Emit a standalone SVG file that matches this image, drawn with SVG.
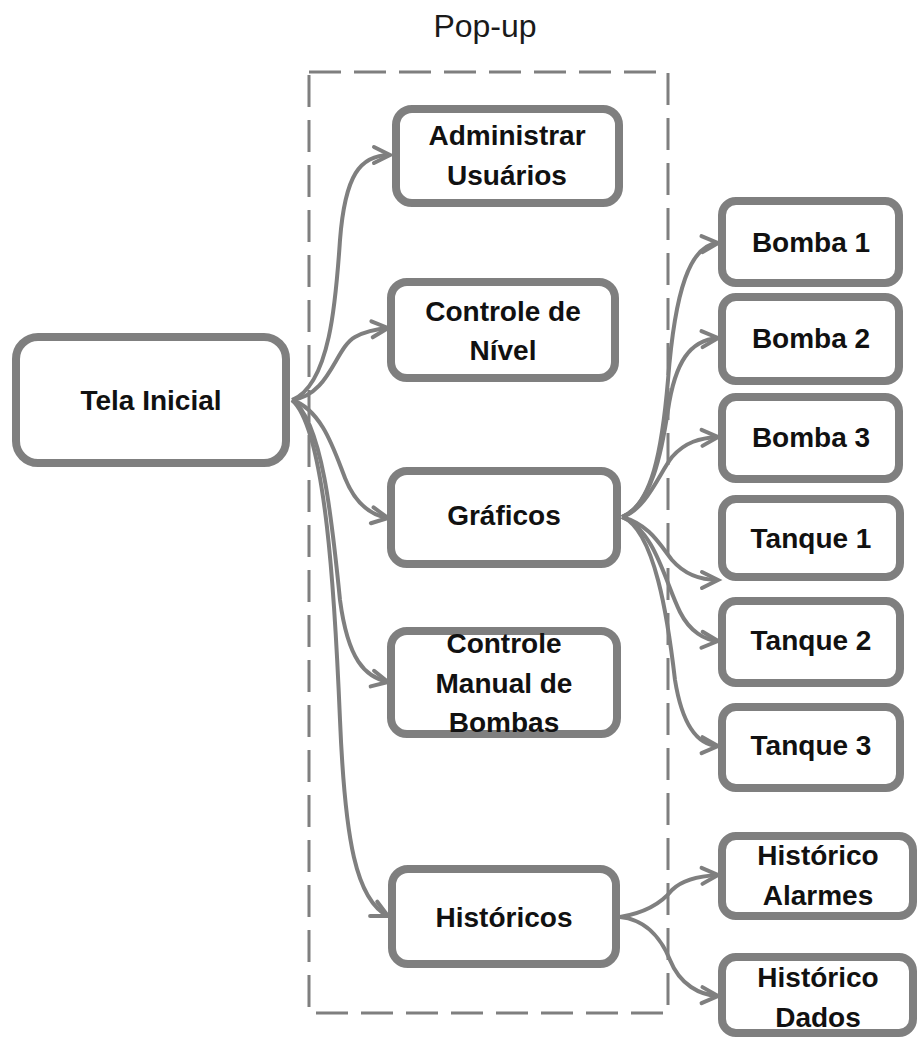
<svg xmlns="http://www.w3.org/2000/svg" width="917" height="1039" viewBox="0 0 917 1039">
  <style>
    .box { fill: #ffffff; stroke: #7f7f7f; stroke-width: 8; }
    .lbl { font-family: "Liberation Sans", Arial, sans-serif; font-weight: bold; font-size: 28px; fill: #111111; text-anchor: middle; }
    .title { font-family: "Liberation Sans", Arial, sans-serif; font-size: 32px; fill: #1a1a1a; text-anchor: middle; }
    .edge { fill: none; stroke: #7f7f7f; stroke-width: 4; marker-end: url(#arr); }
    .frame { fill: none; stroke: #7f7f7f; stroke-width: 3; stroke-dasharray: 32 13; }
  </style>
  <defs>
    <marker id="arr" markerUnits="userSpaceOnUse" markerWidth="30" markerHeight="30" viewBox="-20 -15 25 30" refX="0" refY="0" orient="auto" overflow="visible">
      <path d="M-16,-8 L0,0 L-16,8" fill="none" stroke="#7f7f7f" stroke-width="4" stroke-linecap="round"/>
    </marker>
  </defs>
  <rect width="917" height="1039" fill="#ffffff"/>

  <!-- pop-up frame -->
  <g id="popup">
    <text class="title" x="485" y="37">Pop-up</text>
    <rect class="frame" x="309" y="72" width="359" height="941"/>
  </g>

  <!-- connectors -->
  <g id="connectors">
    <path class="edge" d="M292,400 C330,385 336,300 340,240 C345,175 360,155 390,155"/>
    <path class="edge" d="M292,400 C330,395 335,348 355,337 C366,331 376,329 388,328"/>
    <path class="edge" d="M292,400 C322,410 334,450 345,478 C355,503 370,515 388,518"/>
    <path class="edge" d="M292,400 C322,420 332,520 340,600 C348,660 365,677 388,682"/>
    <path class="edge" d="M292,400 C326,430 335,600 340,720 C345,840 356,900 388,916"/>

    <path class="edge" d="M622,517 C652,505 662,450 668,380 C675,290 690,245 718,243"/>
    <path class="edge" d="M622,517 C652,505 662,450 668,410 C675,362 690,340 718,338"/>
    <path class="edge" d="M622,517 C646,510 660,472 672,457 C685,442 700,438 718,437"/>
    <path class="edge" d="M622,517 C650,525 660,545 672,560 C685,575 700,580 718,580"/>
    <path class="edge" d="M622,517 C655,530 665,582 680,612 C690,632 705,640 718,641"/>
    <path class="edge" d="M622,517 C655,530 668,620 675,680 C683,730 700,745 718,746"/>

    <path class="edge" d="M620,917 C650,912 664,900 672,890 C682,880 700,876 718,875"/>
    <path class="edge" d="M620,917 C650,920 664,945 670,960 C680,985 700,995 718,996"/>
  </g>

  <g id="tela-inicial">
    <rect class="box" x="16" y="337" width="270" height="126" rx="22"/>
    <text class="lbl" x="151" y="410">Tela Inicial</text>
  </g>

  <g id="administrar-usuarios">
    <rect class="box" x="396" y="109" width="223" height="94" rx="16"/>
    <text class="lbl" x="507" y="145">Administrar</text>
    <text class="lbl" x="507" y="185">Usuários</text>
  </g>

  <g id="controle-nivel">
    <rect class="box" x="391" y="282" width="224" height="96" rx="16"/>
    <text class="lbl" x="503" y="321">Controle de</text>
    <text class="lbl" x="503" y="360">Nível</text>
  </g>

  <g id="graficos">
    <rect class="box" x="391" y="471" width="226" height="93" rx="16"/>
    <text class="lbl" x="504" y="525">Gráficos</text>
  </g>

  <g id="controle-manual">
    <rect class="box" x="391" y="631" width="226" height="103" rx="16"/>
    <text class="lbl" x="504" y="653">Controle</text>
    <text class="lbl" x="504" y="693">Manual de</text>
    <text class="lbl" x="504" y="732">Bombas</text>
  </g>

  <g id="historicos">
    <rect class="box" x="392" y="869" width="224" height="95" rx="16"/>
    <text class="lbl" x="504" y="927">Históricos</text>
  </g>

  <g id="bomba-1">
    <rect class="box" x="722" y="201" width="177" height="82" rx="14"/>
    <text class="lbl" x="811" y="252">Bomba 1</text>
  </g>
  <g id="bomba-2">
    <rect class="box" x="722" y="297" width="177" height="84" rx="14"/>
    <text class="lbl" x="811" y="348">Bomba 2</text>
  </g>
  <g id="bomba-3">
    <rect class="box" x="722" y="397" width="177" height="82" rx="14"/>
    <text class="lbl" x="811" y="447">Bomba 3</text>
  </g>
  <g id="tanque-1">
    <rect class="box" x="722" y="499" width="178" height="78" rx="14"/>
    <text class="lbl" x="811" y="548">Tanque 1</text>
  </g>
  <g id="tanque-2">
    <rect class="box" x="722" y="601" width="178" height="82" rx="14"/>
    <text class="lbl" x="811" y="650">Tanque 2</text>
  </g>
  <g id="tanque-3">
    <rect class="box" x="722" y="707" width="178" height="81" rx="14"/>
    <text class="lbl" x="811" y="755">Tanque 3</text>
  </g>

  <g id="historico-alarmes">
    <rect class="box" x="722" y="836" width="191" height="80" rx="14"/>
    <text class="lbl" x="818" y="865">Histórico</text>
    <text class="lbl" x="818" y="905">Alarmes</text>
  </g>
  <g id="historico-dados">
    <rect class="box" x="722" y="957" width="191" height="76" rx="14"/>
    <text class="lbl" x="818" y="987">Histórico</text>
    <text class="lbl" x="818" y="1027">Dados</text>
  </g>
</svg>
